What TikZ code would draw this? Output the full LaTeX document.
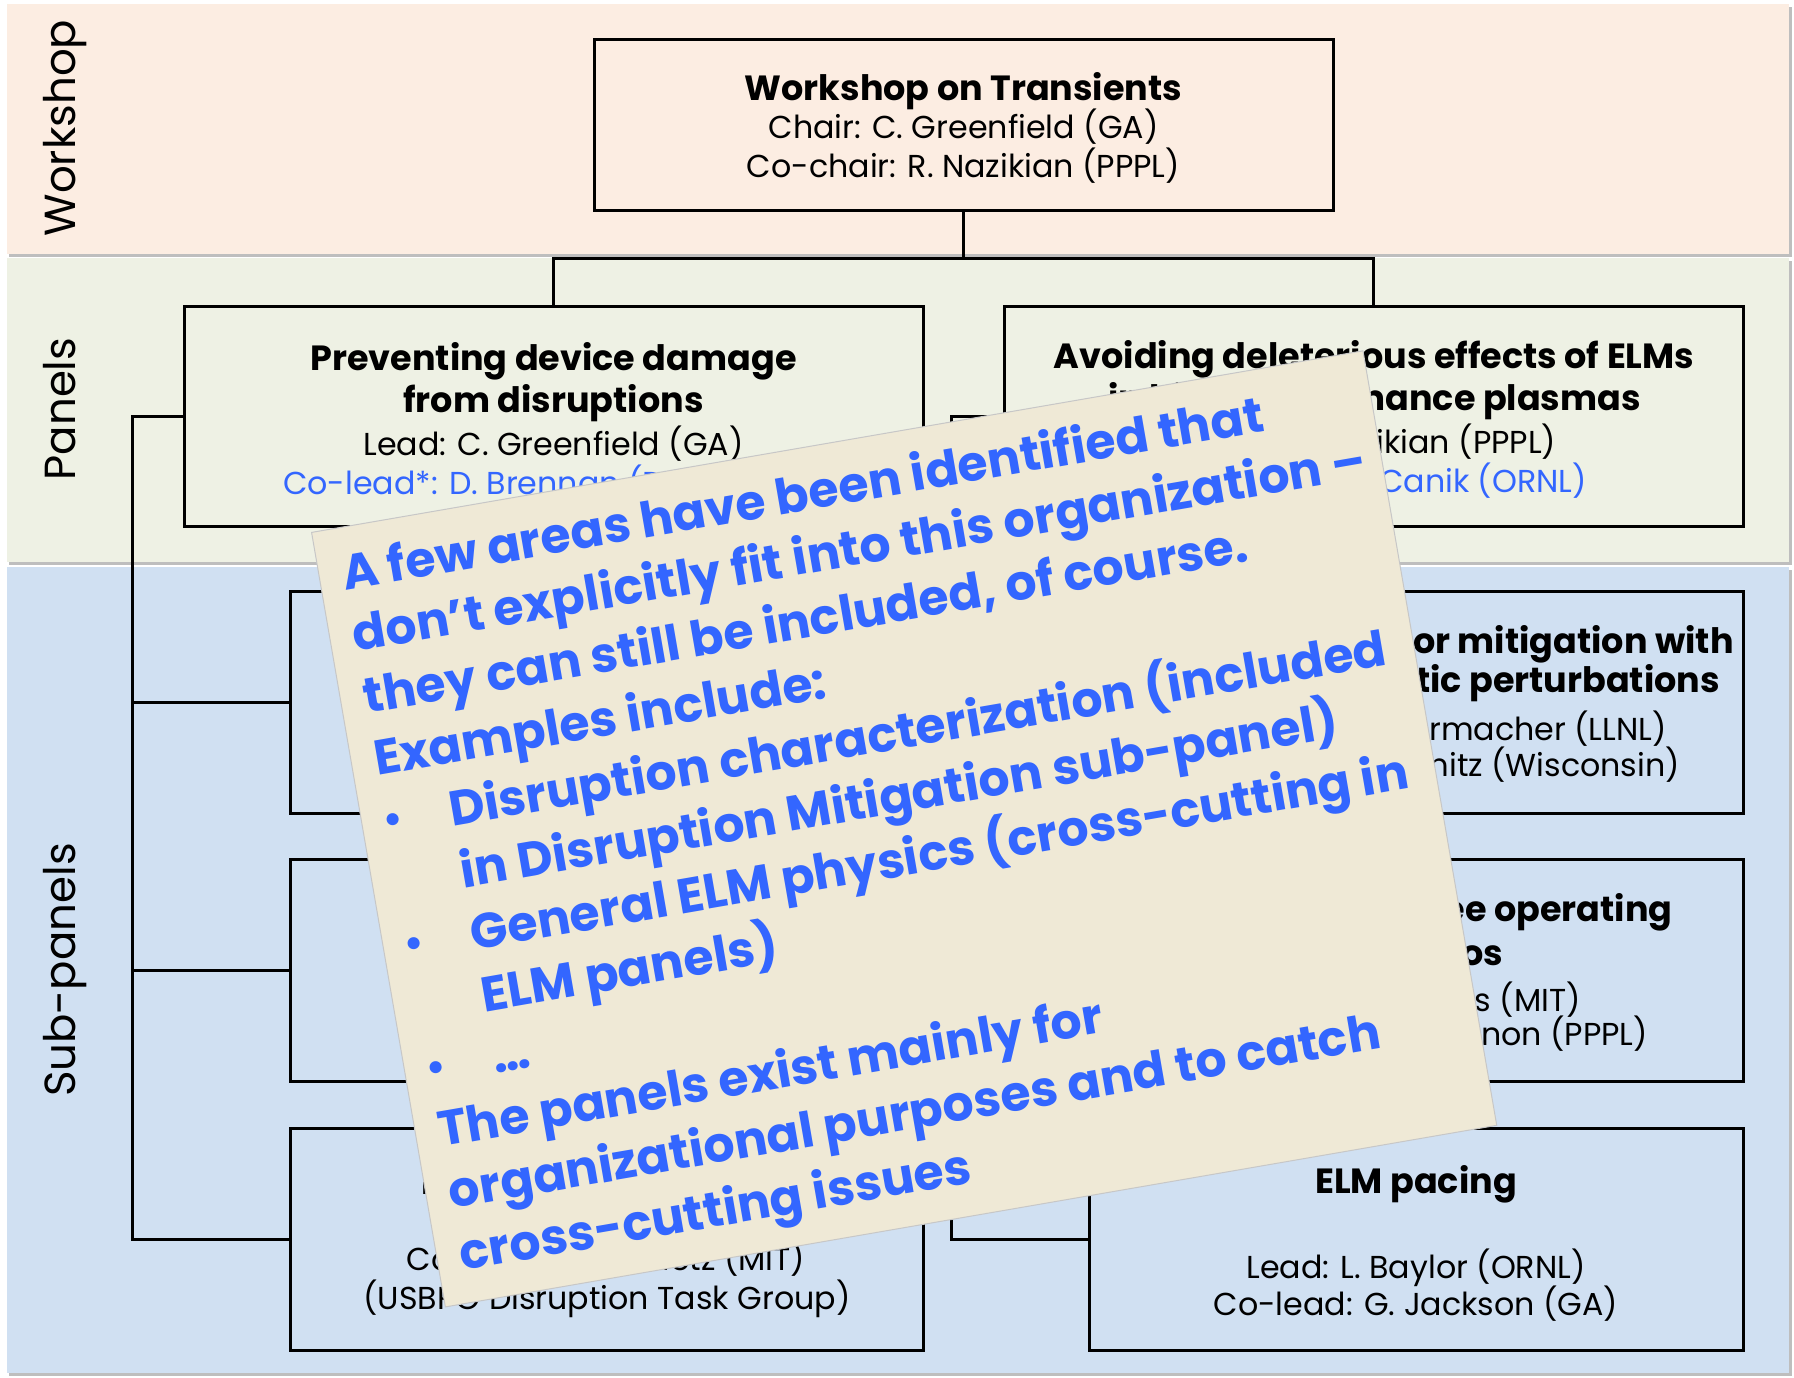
\documentclass[tikz,border=0pt]{standalone}
\usepackage{fontspec}
\setmainfont{Poppins}
\definecolor{wsband}{RGB}{252,237,226}
\definecolor{pnband}{RGB}{238,241,228}
\definecolor{sbband}{RGB}{208,224,242}
\definecolor{bandshadow}{RGB}{190,190,190}
\definecolor{notefill}{RGB}{239,233,214}
\definecolor{noteblue}{RGB}{51,102,255}
\definecolor{leadblue}{RGB}{51,102,255}
\begin{document}
\begin{tikzpicture}[x=1pt,y=-1pt,
  box/.style={draw=black, line width=3pt, rectangle, inner sep=0pt},
  pbox/.style={box, minimum width=739pt, minimum height=220pt},
  slbox/.style={box, minimum width=633pt, minimum height=222pt},
  srbox/.style={box, minimum width=654pt, minimum height=222pt},
  conn/.style={line width=3pt},
  ttl/.style={anchor=base, inner sep=0pt, font=\fontsize{35}{42}\selectfont\bfseries},
  bod/.style={anchor=base, inner sep=0pt, font=\fontsize{31.7}{38}\selectfont},
  blu/.style={bod, text=leadblue},
  vlab/.style={rotate=90, anchor=base, inner sep=0pt, font=\fontsize{43.5}{52}\selectfont},
  notebox/.style={fill=notefill, draw=black!22, line width=1pt, rectangle, inner sep=0pt,
                  minimum width=1067pt, minimum height=786pt},
  nt/.style={anchor=base west, inner sep=0pt, transform shape, text=noteblue,
             font=\fontsize{49}{60}\selectfont\bfseries},
  nbul/.style={anchor=center, inner sep=0pt, transform shape, text=noteblue,
             font=\fontsize{40}{48}\selectfont\bfseries}
]
\useasboundingbox (0,0) rectangle (1794,1377);
\fill[white] (0,0) rectangle (1794,1377);

% bands
\fill[bandshadow] (9,7) rectangle (1792,257);
\fill[wsband] (7,4) rectangle (1789,254);
\fill[bandshadow] (9,261) rectangle (1792,565);
\fill[pnband] (7,258) rectangle (1789,562);
\fill[bandshadow] (9,570) rectangle (1792,1376);
\fill[sbband] (7,567) rectangle (1789,1373);

% side labels
\node[vlab] (lws) at (75,128) {Workshop};
\node[vlab] (lpn) at (75,409) {Panels};
\node[vlab] (lsb) at (75,970) {Sub-panels};

% boxes
\node[box, minimum width=739pt, minimum height=171pt] (ws) at (963.5,124.5) {};
\node[pbox] (pl) at (553.5,416) {};
\node[pbox] (pr) at (1373.5,416) {};
\node[slbox] (sl1) at (606.5,702) {};
\node[slbox] (sl2) at (606.5,970) {};
\node[slbox] (sl3) at (606.5,1239) {};
\node[srbox] (sr1) at (1416,702) {};
\node[srbox] (sr2) at (1416,970) {};
\node[srbox] (sr3) at (1416,1239) {};

% connectors
\coordinate (tb) at (963.5,258);
\coordinate (lb) at (132,416);
\coordinate (rb) at (951,416);
\draw[conn] (ws.south) -- (tb);
\draw[conn] (pl.north) |- (tb) -| (pr.north);
\draw[conn] (pl.west) -- (lb) |- (sl3.west);
\draw[conn] (lb) |- (sl1.west);
\draw[conn] (lb) |- (sl2.west);
\draw[conn] (pr.west) -- (rb) |- (sr3.west);
\draw[conn] (rb) |- (sr1.west);
\draw[conn] (rb) |- (sr2.west);

% workshop text
\node[ttl] (ws1) at (963.5,100) {Workshop on Transients};
\node[bod] (ws2) at (963.5,138.5) {Chair: C. Greenfield (GA)};
\node[bod] (ws3) at (963.5,177) {Co-chair: R. Nazikian (PPPL)};

% left panel text
\node[ttl] (pl1) at (553.5,370) {Preventing device damage};
\node[ttl] (pl2) at (553.5,412.5) {from disruptions};
\node[bod] (pl3) at (553.5,455) {Lead: C. Greenfield (GA)};
\node[blu, anchor=base west] (pl4) at (283,494) {Co-lead*: D. Brennan (Princeton)};

% right panel text
\node[ttl] (pr1) at (1374,368) {Avoiding deleterious effects of ELMs};
\node[ttl, anchor=base east] (pr2) at (1641,410.7) {in high performance plasmas};
\node[bod, anchor=base west] (pr3) at (1362,453) {\llap{Lead: R. Na}zikian (PPPL)};
\node[blu, anchor=base west] (pr4) at (1379,492) {\llap{Co-lead*: J. }Canik (ORNL)};

% right sub-panel 1
\node[ttl, anchor=base west] (sr1a) at (1413,653) {\llap{ELM suppression }or mitigation with};
\node[ttl, anchor=base west] (sr1b) at (1416,692) {\llap{magne}tic perturbations};
\node[bod, anchor=base west] (sr1c) at (1429,740) {\llap{Lead: M. Fenste}rmacher (LLNL)};
\node[bod, anchor=base west] (sr1d) at (1449,776) {\llap{Co-lead: O. Schm}itz (Wisconsin)};

% right sub-panel 2
\node[ttl, anchor=base west] (sr2a) at (1465,921.5) {\llap{ELM-fre}e operating};
\node[ttl, anchor=base west] (sr2b) at (1461,965) {\llap{scenari}os};
\node[bod, anchor=base west] (sr2c) at (1455,1011) {\llap{Lead: J. Hugh}es (MIT)};
\node[bod, anchor=base west] (sr2d) at (1481,1045.5) {non (PPPL)};

% right sub-panel 3
\node[ttl] (sr3a) at (1416,1193) {ELM pacing};
\node[bod] (sr3b) at (1416,1278) {Lead: L. Baylor (ORNL)};
\node[bod] (sr3c) at (1416,1315.5) {Co-lead: G. Jackson (GA)};

% left sub-panel 3
\node[ttl, anchor=base west] (sl3a) at (421,1194) {Disruption mitigation};
\node[bod] (sl3b) at (606,1270) {Co-lead: R. Granetz (MIT)};
\node[bod] (sl3c) at (607,1309) {(USBPO Disruption Task Group)};

% rotated note
\begin{scope}[shift={(311,532)}, rotate=9.8]
\node[notebox, anchor=north west, transform shape] (note) at (0,0) {};
\node[nt] (n1) at (23.5,63) {A few areas have been identified that};
\node[nt] (n2) at (23.5,125.8) {don’t explicitly fit into this organization –};
\node[nt] (n3) at (23.5,188.6) {they can still be included, of course.};
\node[nt] (n4) at (23.5,251.4) {Examples include:};
\node[nbul] (b1) at (32,301) {•};
\node[nt] (n5) at (89,314.2) {Disruption characterization (included};
\node[nt] (n6) at (89,377) {in Disruption Mitigation sub-panel)};
\node[nbul] (b2) at (32,426.8) {•};
\node[nt] (n7) at (89,439.8) {General ELM physics (cross-cutting in};
\node[nt] (n8) at (89,502.6) {ELM panels)};
\node[nbul] (b3) at (32,552.4) {•};
\node[nt] (n9) at (89,565.4) {…};
\node[nt] (n10) at (23.5,628.2) {The panels exist mainly for};
\node[nt] (n11) at (23.5,691) {organizational purposes and to catch};
\node[nt] (n12) at (23.5,753.8) {cross-cutting issues};
\end{scope}
\end{tikzpicture}
\end{document}
